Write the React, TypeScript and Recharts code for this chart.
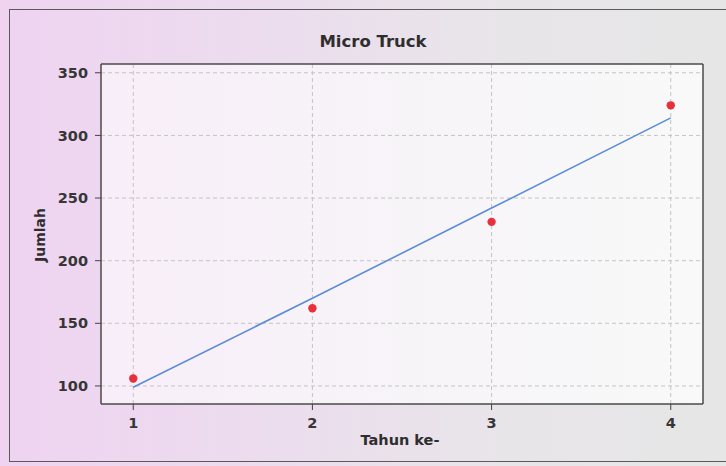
import {
  ComposedChart,
  Line,
  Scatter,
  XAxis,
  YAxis,
  CartesianGrid,
  ReferenceLine,
} from 'recharts'

// tahun ke- and jumlah
const years = [1, 2, 3, 4]
const observed = [106, 162, 231, 324]
const trend = [99, 170, 242, 314]
const yTicks = [100, 150, 200, 250, 300, 350]
const xDomain = [0.82, 4.18]
const yDomain = [85.6, 357]

const data = years.map((t, i) => ({ t, jumlah: observed[i], fit: trend[i] }))

const tickStyle = { fill: '#363636', fontSize: 14.5, fontWeight: 700, fontFamily: 'DejaVu Sans' }
const frame = { stroke: '#4a4a4a', strokeWidth: 1.5 }

export default function App() {
  return (
    <div
      style={{
        position: 'absolute',
        left: 0,
        top: 0,
        width: 726,
        height: 466,
        overflow: 'hidden',
        background: 'linear-gradient(90deg, #efd3f1 0%, #ecdcee 35%, #e8e5e9 70%, #e6e6e6 100%)',
        fontFamily: 'DejaVu Sans',
      }}
    >
      <div
        style={{
          position: 'absolute',
          left: 9,
          top: 9,
          width: 717,
          height: 453,
          boxSizing: 'border-box',
          borderLeft: '1.5px solid #5a5a5a',
          borderTop: '1.5px solid #5a5a5a',
          borderBottom: '1.5px solid #5a5a5a',
        }}
      />
      <div
        style={{
          position: 'absolute',
          left: 0,
          width: 746,
          top: 32,
          textAlign: 'center',
          fontSize: 16.5,
          fontWeight: 700,
          color: '#2e2e2e',
        }}
      >
        Micro Truck
      </div>
      <div
        style={{
          position: 'absolute',
          left: 300,
          width: 200,
          top: 432,
          textAlign: 'center',
          fontSize: 14.5,
          fontWeight: 700,
          color: '#2e2e2e',
        }}
      >
        Tahun ke-
      </div>
      <div
        style={{
          position: 'absolute',
          left: 40,
          top: 235,
          transform: 'translate(-50%, -50%) rotate(-90deg)',
          fontSize: 14,
          fontWeight: 700,
          color: '#2e2e2e',
          whiteSpace: 'nowrap',
        }}
      >
        Jumlah
      </div>
      <ComposedChart
        width={726}
        height={466}
        data={data}
        margin={{ top: 64, right: 23, bottom: 32, left: 41 }}
        style={{ position: 'absolute', left: 0, top: 0 }}
      >
        <defs>
          <linearGradient id="plotBg" x1="0" y1="0" x2="1" y2="0">
            <stop offset="0%" stopColor="#f8eef9" />
            <stop offset="60%" stopColor="#f7f5f8" />
            <stop offset="100%" stopColor="#f9f9f9" />
          </linearGradient>
        </defs>
        <CartesianGrid
          fill="url(#plotBg)"
          stroke="#c4c4c4"
          strokeDasharray="4 3"
          horizontalValues={yTicks}
          verticalValues={years}
        />
        <XAxis
          dataKey="t"
          type="number"
          domain={xDomain}
          ticks={years}
          allowDataOverflow
          tick={tickStyle}
          tickLine={{ stroke: '#444' }}
          tickSize={6}
          tickMargin={8}
          axisLine={frame}
          height={30}
        />
        <YAxis
          type="number"
          domain={yDomain}
          ticks={yTicks}
          allowDataOverflow
          tick={tickStyle}
          tickLine={{ stroke: '#444' }}
          tickSize={6}
          tickMargin={7}
          axisLine={frame}
          width={60}
        />
        <ReferenceLine x={xDomain[1]} {...frame} ifOverflow="visible" />
        <ReferenceLine y={yDomain[1]} {...frame} ifOverflow="visible" />
        <Line
          dataKey="fit"
          stroke="#5b8cd8"
          strokeWidth={1.6}
          dot={false}
          isAnimationActive={false}
        />
        <Scatter
          dataKey="jumlah"
          fill="#e8303c"
          shape={(p: any) => <circle cx={p.cx} cy={p.cy} r={4.2} fill="#e8303c" />}
          isAnimationActive={false}
        />
      </ComposedChart>
    </div>
  )
}
